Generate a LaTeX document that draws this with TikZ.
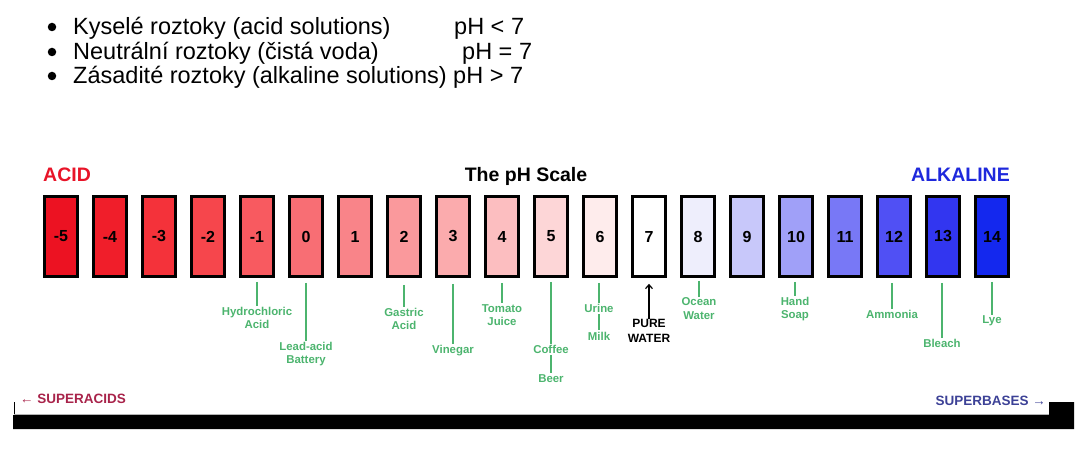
\documentclass[tikz,border=0pt]{standalone}
\usepackage{fontspec}
\setmainfont{Liberation Sans}
\usetikzlibrary{arrows.meta}
\definecolor{lblgreen}{RGB}{76,180,110}
\definecolor{acidred}{RGB}{232,20,40}
\definecolor{alkblue}{RGB}{30,40,220}
\definecolor{supacid}{RGB}{168,35,74}
\definecolor{supbase}{RGB}{60,65,150}
\definecolor{c0}{RGB}{236,18,34}
\definecolor{c1}{RGB}{240,30,42}
\definecolor{c2}{RGB}{244,50,58}
\definecolor{c3}{RGB}{246,70,76}
\definecolor{c4}{RGB}{248,90,96}
\definecolor{c5}{RGB}{248,110,116}
\definecolor{c6}{RGB}{249,132,137}
\definecolor{c7}{RGB}{250,153,156}
\definecolor{c8}{RGB}{251,171,173}
\definecolor{c9}{RGB}{252,190,192}
\definecolor{c10}{RGB}{253,214,215}
\definecolor{c11}{RGB}{254,236,236}
\definecolor{c12}{RGB}{255,255,255}
\definecolor{c13}{RGB}{238,238,252}
\definecolor{c14}{RGB}{200,200,250}
\definecolor{c15}{RGB}{160,160,248}
\definecolor{c16}{RGB}{120,120,246}
\definecolor{c17}{RGB}{80,80,244}
\definecolor{c18}{RGB}{50,54,240}
\definecolor{c19}{RGB}{20,40,238}
\tikzset{
  phbox/.style={draw=black, line width=2.6pt, minimum width=33pt, minimum height=80pt,
    inner sep=0pt, font=\fontsize{16}{18}\selectfont\bfseries},
  glabel/.style={text=lblgreen, font=\fontsize{11.4}{13.5}\selectfont\bfseries, align=center, inner sep=1pt},
  gline/.style={draw=lblgreen, line width=1.4pt},
  bullettext/.style={anchor=base west, inner sep=0pt, font=\fontsize{23.5}{24}\selectfont},
  headline/.style={font=\fontsize{19.5}{22}\selectfont\bfseries, inner sep=0pt},
  bulletdot/.style={circle, fill=black, inner sep=0pt, minimum size=8.5pt},
}
\begin{document}
\begin{tikzpicture}[x=1pt,y=-1pt]
\useasboundingbox (0,0) rectangle (1080,449);
% bullet list
\node[bulletdot] (l1b) at (52,27) {};
\node[bulletdot] (l2b) at (52,52) {};
\node[bulletdot] (l3b) at (52,76) {};
\node[bullettext] (t1) at (73,35) {Kyselé roztoky (acid solutions)};
\node[bullettext] (p1) at (454,35) {pH < 7};
\node[bullettext] (t2) at (73,60) {Neutrální roztoky (čistá voda)};
\node[bullettext] (p2) at (462,60) {pH = 7};
\node[bullettext] (t3) at (73,84) {Zásadité roztoky (alkaline solutions) pH > 7};
% headings
\node[headline, text=acidred, anchor=base west] (acid) at (43,182) {ACID};
\node[headline, anchor=base] (title) at (526,182) {The pH Scale};
\node[headline, text=alkblue, anchor=base east] (alk) at (1010,182) {ALKALINE};
% boxes
\foreach \i in {0,...,19}{
  \pgfmathtruncatemacro{\v}{\i-5}
  \node[phbox, fill=c\i] (b\i) at (61+49*\i,236.5) {\v};
}
% labels: each connector is vertical, from just under its box down to its label
\node[glabel] (hcl) at (257,318) {Hydrochloric\\Acid};
\draw[gline, shorten <=4pt] (hcl.north |- b4.south) -- (hcl.north);
\node[glabel] (lead) at (306,354) {Lead-acid\\Battery};
\draw[gline, shorten <=5pt] (lead.north |- b5.south) -- (lead.north);
\node[glabel] (gas) at (404,319) {Gastric\\Acid};
\draw[gline, shorten <=7pt] (gas.north |- b7.south) -- (gas.north);
\node[glabel] (vin) at (453,351) {Vinegar};
\draw[gline, shorten <=6pt] (vin.north |- b8.south) -- (vin.north);
\node[glabel] (tom) at (502,315) {Tomato\\Juice};
\draw[gline, shorten <=5pt] (tom.north |- b9.south) -- (tom.north);
\node[glabel] (cof) at (551,349) {Coffee};
\draw[gline, shorten <=4pt] (cof.north |- b10.south) -- (cof.north);
\node[glabel] (beer) at (551,379) {Beer};
\draw[gline, shorten <=1pt, shorten >=1pt] (cof.south) -- (beer.north);
\node[glabel] (uri) at (599,308) {Urine};
\draw[gline, shorten <=5pt] (uri.north |- b11.south) -- (uri.north);
\node[glabel] (milk) at (599,336) {Milk};
\draw[gline, shorten <=1pt, shorten >=1pt] (uri.south) -- (milk.north);
\node[glabel, text=black, font=\fontsize{12}{15.5}\selectfont\bfseries] (pw) at (649,331) {PURE\\WATER};
\draw[-{Straight Barb[length=4pt,width=7pt]}, line width=1.2pt, shorten <=-1pt, shorten >=6pt] (pw.north) -- (pw.north |- b12.south);
\node[glabel] (oce) at (699,308.5) {Ocean\\Water};
\draw[gline, shorten <=3pt] (oce.north |- b13.south) -- (oce.north);
\node[glabel] (soap) at (795,309) {Hand\\Soap};
\draw[gline, shorten <=4pt] (soap.north |- b15.south) -- (soap.north);
\node[glabel] (amm) at (892,314) {Ammonia};
\draw[gline, shorten <=5pt] (amm.north |- b17.south) -- (amm.north);
\node[glabel] (ble) at (942,343) {Bleach};
\draw[gline, shorten <=5pt] (ble.north |- b18.south) -- (ble.north);
\node[glabel] (lye) at (992,321) {Lye};
\draw[gline, shorten <=4pt] (lye.north |- b19.south) -- (lye.north);
% bottom
\node[anchor=base west, inner sep=0pt, text=supacid, font=\fontsize{13.5}{15}\selectfont\bfseries] (sa) at (20,403) {{\mdseries ←} SUPERACIDS};
\node[anchor=base east, inner sep=0pt, text=supbase, font=\fontsize{13.5}{15}\selectfont\bfseries] (sb) at (1046,406) {SUPERBASES {\mdseries →}};
\coordinate (vt) at (14,402);
\coordinate (vb) at (14,415);
\draw[line width=1pt] (vt) -- (vb);
\fill[black] (13,415) -- (1049,415) -- (1049,402) -- (1074,402) -- (1074,429) -- (13,429) -- cycle;
\draw[gray!60, line width=0.8pt] (14,414.6) -- (1049,414.6);
\end{tikzpicture}
\end{document}
